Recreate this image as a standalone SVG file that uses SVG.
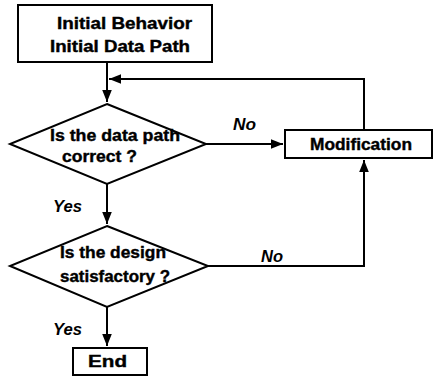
<svg xmlns="http://www.w3.org/2000/svg" width="434" height="377" viewBox="0 0 434 377">
<style>
.box{fill:#fff;stroke:#000;stroke-width:2}
.t{font-family:"Liberation Sans",Arial,sans-serif;font-weight:bold;font-size:16.5px;fill:#000;stroke:#000;stroke-width:0.4}
.lbl{font-family:"Liberation Sans",Arial,sans-serif;font-weight:bold;font-style:italic;font-size:16px;fill:#000}
.ln{fill:none;stroke:#000;stroke-width:2}
</style>
<defs>
<marker id="ah" viewBox="0 0 10 10" refX="10" refY="5" markerWidth="6" markerHeight="6" orient="auto" markerUnits="strokeWidth">
<path d="M0,1 L10,5 L0,9 Z" fill="#000"/>
</marker>
</defs>
<rect width="434" height="377" fill="#fff"/>
<g id="connectors">
<path class="ln" d="M107,62 V102" marker-end="url(#ah)"/>
<path class="ln" d="M364,130 V79 H109" marker-end="url(#ah)"/>
<path class="ln" d="M206,144 H283" marker-end="url(#ah)"/>
<path class="ln" d="M107,184 V224" marker-end="url(#ah)"/>
<path class="ln" d="M208,266 H364 V160" marker-end="url(#ah)"/>
<path class="ln" d="M107,307 V346" marker-end="url(#ah)"/>
<text class="lbl" x="233" y="130" textLength="23" lengthAdjust="spacingAndGlyphs">No</text>
<text class="lbl" x="261" y="262" textLength="22" lengthAdjust="spacingAndGlyphs">No</text>
<text class="lbl" x="53" y="212" textLength="29" lengthAdjust="spacingAndGlyphs">Yes</text>
<text class="lbl" x="53" y="335" textLength="29" lengthAdjust="spacingAndGlyphs">Yes</text>
</g>
<g id="start">
<rect class="box" x="18" y="5" width="194" height="57"/>
<text class="t" x="57" y="29" textLength="135" lengthAdjust="spacingAndGlyphs">Initial Behavior</text>
<text class="t" x="50" y="52" textLength="140" lengthAdjust="spacingAndGlyphs">Initial Data Path</text>
</g>
<g id="check-path">
<polygon class="box" points="107,104 206,144 107,184 10,144"/>
<text class="t" x="50" y="141" textLength="130" lengthAdjust="spacingAndGlyphs">Is the data path</text>
<text class="t" x="62" y="162" textLength="75" lengthAdjust="spacingAndGlyphs">correct ?</text>
</g>
<g id="modification">
<rect class="box" x="285" y="130" width="147" height="28"/>
<text class="t" x="310" y="150" textLength="102" lengthAdjust="spacingAndGlyphs">Modification</text>
</g>
<g id="check-design">
<polygon class="box" points="107,226 208,266 107,307 10,266"/>
<text class="t" x="60" y="258" textLength="106" lengthAdjust="spacingAndGlyphs">Is the design</text>
<text class="t" x="60" y="282" textLength="110" lengthAdjust="spacingAndGlyphs">satisfactory ?</text>
</g>
<g id="end">
<rect class="box" x="73" y="348" width="74" height="27"/>
<text class="t" x="88" y="367" textLength="39" lengthAdjust="spacingAndGlyphs">End</text>
</g>
</svg>
